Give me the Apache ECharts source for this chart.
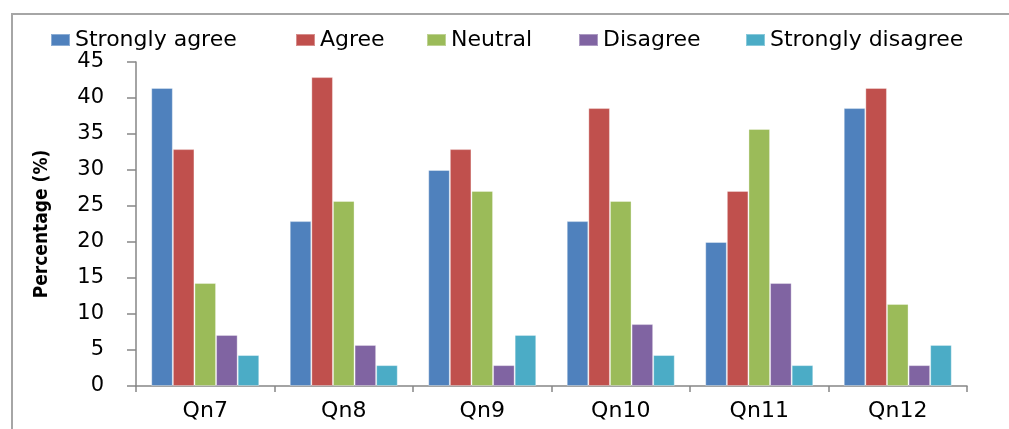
<!DOCTYPE html>
<html>
<head>
<meta charset="utf-8">
<script src="https://cdn.jsdelivr.net/npm/echarts@6/dist/echarts.min.js"></script>
<style>
  html, body { margin: 0; padding: 0; background: #fff; }
  #chart { width: 1009px; height: 429px; }
</style>
</head>
<body>
<div id="chart"></div>
<script>
// data
const categories = ['Qn7', 'Qn8', 'Qn9', 'Qn10', 'Qn11', 'Qn12'];
const stronglyAgree = [41.4, 22.9, 30.0, 22.9, 20.0, 38.6];
const agree = [32.9, 42.9, 32.9, 38.6, 27.1, 41.4];
const neutral = [14.3, 25.7, 27.1, 25.7, 35.7, 11.4];
const disagree = [7.1, 5.7, 2.9, 8.6, 14.3, 2.9];
const stronglyDisagree = [4.3, 2.9, 7.1, 4.3, 2.9, 5.7];

const seriesDefs = [
  ['Strongly agree', stronglyAgree, '#4F81BD'],
  ['Agree', agree, '#C0504D'],
  ['Neutral', neutral, '#9BBB59'],
  ['Disagree', disagree, '#8064A2'],
  ['Strongly disagree', stronglyDisagree, '#4BACC6'],
];
// left edge of each legend entry, as in the picture
const legendLeft = [45, 290, 421, 573, 740];

const font = 'DejaVu Sans';
const chart = echarts.init(document.getElementById('chart'));

chart.setOption({
  animation: false,
  grid: { left: 136, right: 42, top: 62, bottom: 43 },
  legend: seriesDefs.map(([name], i) => ({
    data: [name],
    top: 24,
    left: legendLeft[i],
    itemWidth: 19,
    itemHeight: 12,
    itemGap: 0,
    icon: 'rect',
    textStyle: { fontFamily: font, fontSize: 22, color: '#000' },
  })),
  // outer frame: left and top edges only, the rest is cut off in the picture
  graphic: [
    {
      type: 'polyline',
      shape: { points: [[12, 429], [12, 14], [1009, 14]] },
      style: { stroke: '#a6a6a6', lineWidth: 2, fill: 'none' },
      silent: true,
    },
  ],
  xAxis: {
    type: 'category',
    data: categories,
    axisLine: { lineStyle: { color: '#868686', width: 1.5 } },
    axisTick: { show: true, length: 6, lineStyle: { color: '#868686', width: 1.5 } },
    axisLabel: { fontFamily: font, fontSize: 22, color: '#000', margin: 14 },
  },
  yAxis: {
    type: 'value',
    min: 0,
    max: 45,
    interval: 5,
    name: 'Percentage (%)',
    nameLocation: 'middle',
    nameGap: 84,
    nameTextStyle: { fontFamily: "'DejaVu Sans Condensed', 'Liberation Sans'", fontWeight: 'bold', fontSize: 19, color: '#000' },
    axisLine: { show: true, lineStyle: { color: '#868686', width: 1.5 } },
    axisTick: { show: true, length: 9, lineStyle: { color: '#868686', width: 1.5 } },
    splitLine: { show: false },
    axisLabel: { fontFamily: font, fontSize: 21, color: '#000', margin: 32 },
  },
  series: seriesDefs.map(([name, values, color]) => ({
    name,
    type: 'bar',
    data: values,
    barGap: '0%',
    barCategoryGap: '22%',
    itemStyle: { color, borderColor: 'rgba(255,255,255,0.35)', borderWidth: 1 },
  })),
});
</script>
</body>
</html>
